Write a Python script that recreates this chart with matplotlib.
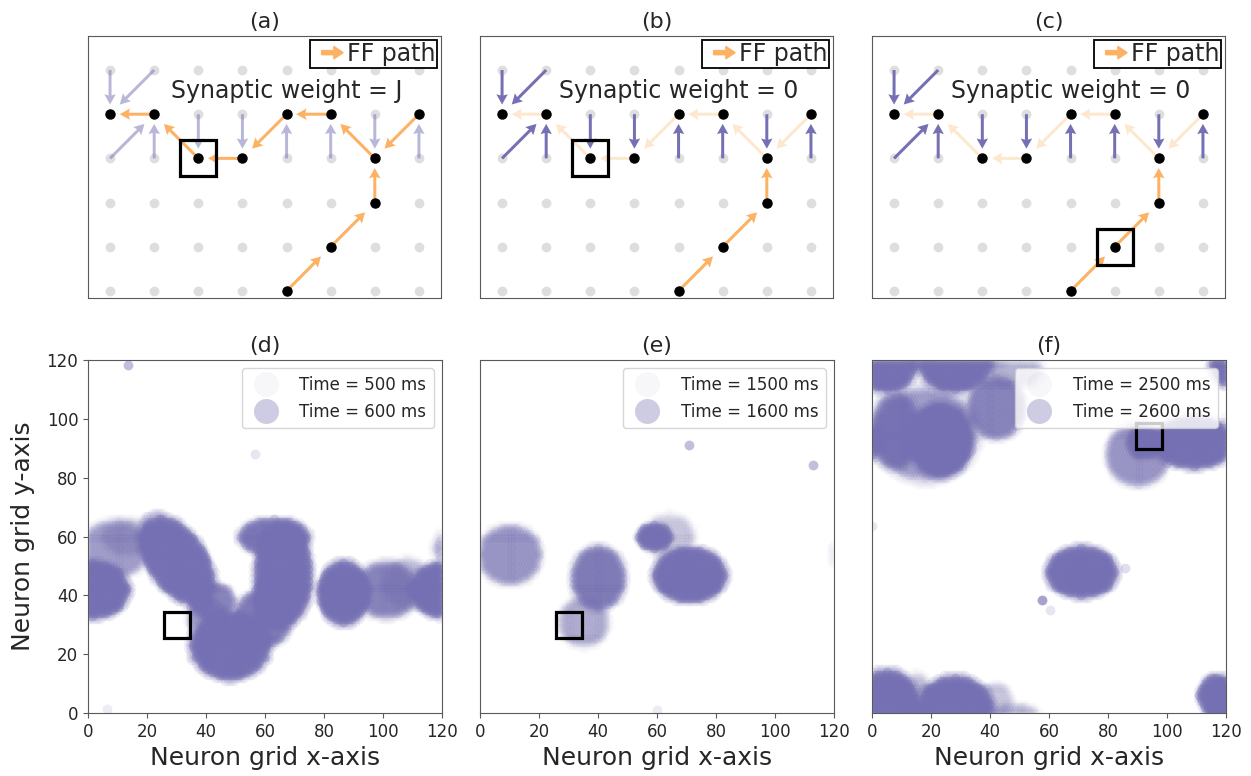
import numpy as np
import matplotlib
matplotlib.use("Agg")
import matplotlib.pyplot as plt
import matplotlib.patches as mpatches
from matplotlib.legend_handler import HandlerPatch
from matplotlib.lines import Line2D

# ---------------- top row: toy lattice (8 columns x 6 rows) ----------------
lattice_cols = 8
lattice_rows = 6
path_nodes = [(4, 0), (5, 1), (6, 2), (6, 3), (7, 4), (5, 4), (4, 4),
              (3, 3), (2, 3), (1, 4), (0, 4)]
# feed-forward connections along the path (source -> target)
ff_edges = [((4, 0), (5, 1)), ((5, 1), (6, 2)), ((6, 2), (6, 3)),
            ((7, 4), (6, 3)), ((6, 3), (5, 4)), ((5, 4), (4, 4)),
            ((4, 4), (3, 3)), ((3, 3), (2, 3)), ((2, 3), (1, 4)),
            ((1, 4), (0, 4))]
# recurrent connections from neighbouring neurons onto the path
rec_edges = [((0, 5), (0, 4)), ((1, 5), (0, 4)), ((0, 3), (1, 4)),
             ((1, 3), (1, 4)), ((2, 4), (2, 3)), ((3, 4), (3, 3)),
             ((4, 3), (4, 4)), ((5, 3), (5, 4)), ((6, 4), (6, 3)),
             ((7, 3), (7, 4))]
top_titles = ["(a)", "(b)", "(c)"]
weight_labels = ["J", "0", "0"]
marked_nodes = [(2, 3), (2, 3), (5, 1)]
ff_kept = [10, 3, 3]          # FF edges (from the input side) left at full strength

# ---------------- bottom row: spike snapshots on a 120 x 120 grid ----------------
grid_size = 120
bottom_titles = ["(d)", "(e)", "(f)"]
t_start = [500, 1500, 2500]
t_end = [600, 1600, 2600]
probe_xy = [(30, 30), (30, 30), (94, 94)]

# active clusters: (time ms, centre x, centre y, half-width, half-height, tilt deg)
clusters_d = [
    (510, 14, 60, 9, 6, 0), (540, 9, 56, 11, 9, 0),
    (520, 108, 44, 8, 8, 0), (560, 101, 42, 10, 9, 0),
    (540, 40, 33, 6, 6, 0), (560, 42, 38, 7, 6, 0),
    (540, 62, 38, 6, 9, 0), (570, 59, 32, 9, 9, 45),
    (580, 63, 60, 11, 6, 0),
    (600, 1.5, 42, 11.5, 9, 0), (600, 30, 52, 16, 9, -55),
    (600, 48, 23, 12.5, 10.5, 0), (600, 66, 47, 9, 16, 0),
    (600, 86.5, 41, 8, 10, 0),
]
strays_d = [(560, 13.6, 118.3), (520, 56.7, 88.1), (510, 6.6, 1.4)]

clusters_e = [
    (1510, 64, 60, 8, 7, 0), (1530, 35, 31, 8, 8, 0),
    (1545, 10, 54, 10, 9.5, 0), (1570, 40, 46, 8.5, 10, 0),
    (1600, 59, 60, 5.5, 4, 0), (1600, 71, 47, 11.5, 8.5, 0),
]
strays_e = [(1560, 70.8, 91.0), (1560, 113.0, 84.2), (1510, 59.9, 1.1)]

clusters_f = [
    (2510, 42, 4, 5, 6, 0), (2520, 15, 5, 5, 8, 0), (2525, 48, 117, 9, 6, 0),
    (2540, 18, 95, 17, 15, 0), (2565, 8, 96, 8, 12, 0),
    (2560, 42, 104, 9, 10, 0),
    (2545, 90, 88, 10, 10, 0), (2580, 92, 92, 5, 5, 0),
    (2600, 5, 2, 10, 12, 0), (2600, 28, 1, 12, 11, 0),
    (2600, 23, 93, 10, 11.5, 0), (2600, 109, 92, 13, 8, 0),
    (2600, 71, 48, 11, 8, 0), (2600, 116, 6, 5, 6.5, 0),
]
strays_f = [(2580, 57.5, 38.5), (2530, 85.8, 49.3), (2520, 0.0, 63.4),
            (2520, 60.5, 35.0)]

# ---------------- styling ----------------
W, H = 1251, 776
purple = "#7570b3"
orange = "#fdb163"
grey_dot = "#dedede"
spine_col = "#595959"
text_col = "#262626"
reach = 0.78
dot_size = 50

fig = plt.figure(figsize=(W / 100, H / 100), dpi=100)


def px_axes(left, top, right, bottom):
    return fig.add_axes([left / W, 1 - bottom / H, (right - left) / W,
                         (bottom - top) / H])


def arrow_patch(legend, orig_handle, xdescent, ydescent, width, height,
                fontsize):
    return mpatches.FancyArrow(0.3 * width, 0.5 * height, 0.7 * width, 0,
                               width=0.25 * height, head_width=0.75 * height,
                               head_length=0.3 * width,
                               length_includes_head=True)


def draw_edges(ax, edges, color, alpha):
    if not edges:
        return
    src = np.array([e[0] for e in edges], float)
    dst = np.array([e[1] for e in edges], float)
    vec = (dst - src) * reach
    ax.quiver(src[:, 0], src[:, 1], vec[:, 0], vec[:, 1], angles="xy",
              scale_units="xy", scale=1, color=color, alpha=alpha,
              width=0.0085, headwidth=3.8, headlength=3.4,
              headaxislength=3.0, zorder=2)


top_left = [88, 480, 872]
for k in range(3):
    ax = px_axes(top_left[k], 36, top_left[k] + 353, 298)
    gx, gy = np.meshgrid(np.arange(lattice_cols), np.arange(lattice_rows))
    ax.plot(gx.ravel(), gy.ravel(), "o", color=grey_dot, ms=6, zorder=1)
    weak = weight_labels[k] != "J"
    draw_edges(ax, rec_edges, purple, 1.0 if weak else 0.5)
    draw_edges(ax, ff_edges[:ff_kept[k]], orange, 1.0)
    draw_edges(ax, ff_edges[ff_kept[k]:], orange, 0.3)
    px_ = [p[0] for p in path_nodes]
    py_ = [p[1] for p in path_nodes]
    ax.plot(px_, py_, "o", color="black", ms=6.5, ls="none", zorder=3)
    mx, my = marked_nodes[k]
    ax.plot([mx], [my], "s", ms=26, mfc="none", mec="black", mew=2.3,
            zorder=4)
    ax.text(4.0, 4.52, "Synaptic weight = " + weight_labels[k], fontsize=17,
            ha="center", va="center", color=text_col, zorder=5)
    ff_proxy = mpatches.FancyArrow(0, 0, 1, 0, color=orange)
    leg = ax.legend([ff_proxy], ["FF path"], loc="upper right", fontsize=17,
                    handler_map={mpatches.FancyArrow:
                                 HandlerPatch(patch_func=arrow_patch)},
                    fancybox=False, framealpha=1, edgecolor="black",
                    borderpad=0.1, borderaxespad=0.15, handlelength=1.3,
                    handletextpad=0.15)
    leg.get_frame().set_linewidth(1.3)
    for t in leg.get_texts():
        t.set_color(text_col)
    ax.set_xlim(-0.5, 7.5)
    ax.set_ylim(-0.16, 5.77)
    ax.set_xticks([])
    ax.set_yticks([])
    for s in ax.spines.values():
        s.set_color(spine_col)
    ax.set_title(top_titles[k], fontsize=16, color=text_col)

# ---------------- bottom row ----------------
# neuron positions: one per grid cell, odd rows shifted by half a cell
iy, ix = np.meshgrid(np.arange(grid_size), np.arange(grid_size), indexing="ij")
gxx = (ix + 0.5 * (iy % 2)).astype(float)
gyy = iy.astype(float)


def members(cx, cy, rx, ry, tilt):
    dx = (gxx - cx + grid_size / 2) % grid_size - grid_size / 2
    dy = (gyy - cy + grid_size / 2) % grid_size - grid_size / 2
    th = np.deg2rad(tilt)
    u = dx * np.cos(th) + dy * np.sin(th)
    v = -dx * np.sin(th) + dy * np.cos(th)
    m = (u / rx) ** 2 + (v / ry) ** 2 <= 1
    return gxx[m], gyy[m]


def dot_alpha(t, t0, t1):
    f = (t - t0) / (t1 - t0)
    return 0.025 + 0.3 * f ** 1.6


all_clusters = [clusters_d, clusters_e, clusters_f]
all_strays = [strays_d, strays_e, strays_f]
for k in range(3):
    ax = px_axes(top_left[k], 360, top_left[k] + 354, 713)
    t0, t1 = t_start[k], t_end[k]
    for (t, cx, cy, rx, ry, tilt) in sorted(all_clusters[k], key=lambda c: c[0]):
        a = dot_alpha(t, t0, t1)
        # sparse fringe around the cluster
        xs, ys = members(cx, cy, rx * 1.15, ry * 1.15, tilt)
        ax.scatter(xs, ys, s=dot_size, color=purple, alpha=max(0.02, a * 0.3),
                   linewidths=0, zorder=2)
        xs, ys = members(cx, cy, rx, ry, tilt)
        ax.scatter(xs, ys, s=dot_size, color=purple, alpha=a,
                   linewidths=0, zorder=2)
    for (t, x, y) in all_strays[k]:
        ax.scatter([x], [y], s=dot_size, color=purple,
                   alpha=min(1, 2.5 * dot_alpha(t, t0, t1) + 0.05),
                   linewidths=0, zorder=2)
    ax.plot([probe_xy[k][0]], [probe_xy[k][1]], "s", ms=19, mfc="none",
            mec="black", mew=2.3, zorder=4)
    handles = [Line2D([], [], marker="o", ls="none", ms=18, color=purple,
                      alpha=dot_alpha(t, t0, t1) + 0.03, mew=0)
               for t in (t0, t1)]
    leg = ax.legend(handles, ["Time = %d ms" % t0, "Time = %d ms" % t1],
                    loc="upper right", fontsize=12, labelspacing=0.55,
                    handletextpad=1.0, borderpad=0.45)
    leg.set_zorder(10)
    for t in leg.get_texts():
        t.set_color(text_col)
    ax.set_xlim(0, 120)
    ax.set_ylim(0, 120)
    ax.set_xticks(np.arange(0, 121, 20))
    ax.set_yticks(np.arange(0, 121, 20))
    ax.tick_params(labelsize=12, colors=spine_col, labelcolor=text_col)
    if k > 0:
        ax.tick_params(axis="y", left=False, labelleft=False)
    else:
        ax.set_ylabel("Neuron grid y-axis", fontsize=18, color=text_col,
                      labelpad=8)
    ax.set_xlabel("Neuron grid x-axis", fontsize=18, color=text_col)
    for s in ax.spines.values():
        s.set_color(spine_col)
    ax.set_title(bottom_titles[k], fontsize=16, color=text_col)

fig.savefig("out.png", dpi=100)
